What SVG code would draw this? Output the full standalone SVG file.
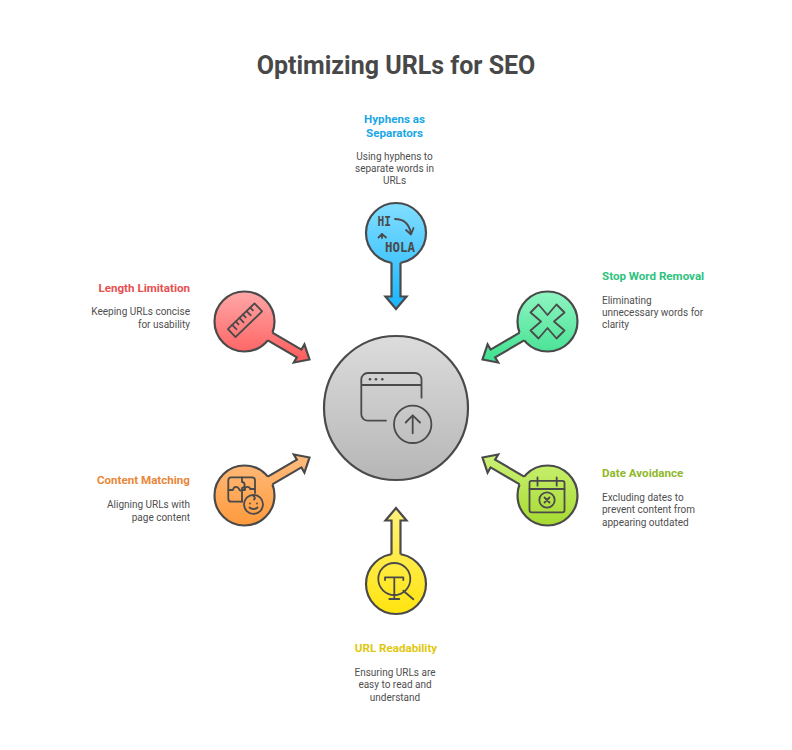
<svg xmlns="http://www.w3.org/2000/svg" width="792" height="750" viewBox="0 0 792 750">
<style>
text{font-family:Roboto,"Liberation Sans",sans-serif}
.t{font-size:25px;font-weight:700;fill:#484848;text-anchor:middle}
.h{font-size:11.6px;font-weight:700}
.d{font-size:10px;fill:#4f4f4f}
.m{text-anchor:middle}.e{text-anchor:end}
.c{stroke:#4a4a4a;stroke-width:2.2}
.i{fill:none;stroke:#4a4a4a;stroke-width:1.8;stroke-linecap:round;stroke-linejoin:round}
.l{fill:none;stroke:#4a4a4a;stroke-width:2.2;stroke-linejoin:miter}
.k{font-family:"DejaVu Sans Mono","Liberation Mono",monospace;font-weight:700;font-size:14px;fill:#4a4a4a}
</style>
<defs>
<linearGradient id="g0" gradientUnits="userSpaceOnUse" x1="0" y1="336" x2="0" y2="480"><stop offset="0" stop-color="#dcdcdc"/><stop offset="1" stop-color="#b6b6b6"/></linearGradient>
<linearGradient id="g1" gradientUnits="userSpaceOnUse" x1="0" y1="203" x2="0" y2="309"><stop offset="0" stop-color="#82deff"/><stop offset="1" stop-color="#19b5ff"/></linearGradient>
<linearGradient id="g2" gradientUnits="userSpaceOnUse" x1="0" y1="291" x2="0" y2="363"><stop offset="0" stop-color="#90f5c2"/><stop offset="1" stop-color="#3ee08e"/></linearGradient>
<linearGradient id="g3" gradientUnits="userSpaceOnUse" x1="0" y1="454" x2="0" y2="526"><stop offset="0" stop-color="#ccf277"/><stop offset="1" stop-color="#a6da30"/></linearGradient>
<linearGradient id="g4" gradientUnits="userSpaceOnUse" x1="0" y1="508" x2="0" y2="614"><stop offset="0" stop-color="#fff27a"/><stop offset="1" stop-color="#ffe40f"/></linearGradient>
<linearGradient id="g5" gradientUnits="userSpaceOnUse" x1="0" y1="454" x2="0" y2="526"><stop offset="0" stop-color="#ffbd80"/><stop offset="1" stop-color="#ff9a3c"/></linearGradient>
<linearGradient id="g6" gradientUnits="userSpaceOnUse" x1="0" y1="291" x2="0" y2="363"><stop offset="0" stop-color="#ffa8a8"/><stop offset="1" stop-color="#ff5a5a"/></linearGradient>
</defs>
<text class="t" x="396" y="74">Optimizing URLs for SEO</text>

<g id="center">
<circle cx="396" cy="408" r="72" fill="url(#g0)" class="c"/>
<path class="i" d="M386 420.700H368a6.500 6.500 0 0 1-6.700-6.500V379.500a6.500 6.500 0 0 1 6.700-6.500H415a6.500 6.500 0 0 1 6.500 6.500V397.700M361.500 385H421.500"/>
<circle cx="370" cy="379.300" r="1.300" fill="#4a4a4a"/><circle cx="376" cy="379.300" r="1.300" fill="#4a4a4a"/><circle cx="382.300" cy="379.300" r="1.300" fill="#4a4a4a"/>
<circle cx="412.700" cy="424.300" r="18.700" class="i"/>
<path class="i" d="M412.700 433.300V415.300M405.700 422.500L412.700 415.300L420 422.500"/>
</g>

<g id="hyphens">
<circle cx="396" cy="233" r="30" fill="url(#g1)" class="c"/>
<text class="k" x="377.500" y="226" textLength="13.500" lengthAdjust="spacingAndGlyphs">HI</text>
<text class="k" x="385" y="251.500" textLength="30" lengthAdjust="spacingAndGlyphs">HOLA</text>
<path class="i" d="M395 219C403 219 409 224 411 233M406 230L411 234.500L413.500 228M382 238V234M378.500 237.500L382 234L386 237.500"/>
<text class="h m" fill="#1aa7e6" x="394.500" y="123">Hyphens as</text>
<text class="h m" fill="#1aa7e6" x="394.500" y="137">Separators</text>
<text class="d m" x="394.500" y="160">Using hyphens to</text>
<text class="d m" x="394.500" y="172">separate words in</text>
<text class="d m" x="394.500" y="184">URLs</text>
</g>

<g id="stop-word">
<circle cx="547.500" cy="321.500" r="30" fill="url(#g2)" class="c"/>
<path class="i" d="M547.500 315L538.500 304.500L530.500 312.500L541 321.500L530.500 330.500L538.500 338.500L547.500 328L556.500 338.500L564.500 330.500L554 321.500L564.500 312.500L556.500 304.500Z"/>
<text class="h" fill="#2ec27e" x="602" y="280">Stop Word Removal</text>
<text class="d" x="602" y="304">Eliminating</text>
<text class="d" x="602" y="316">unnecessary words for</text>
<text class="d" x="602" y="328">clarity</text>
</g>

<g id="date">
<circle cx="547.500" cy="495.500" r="30" fill="url(#g3)" class="c"/>
<rect x="529.500" y="480.800" width="35" height="31.500" rx="2" class="i"/>
<path class="i" d="M529.500 489H564.500M537.500 477.300V485.700M556.700 477.300V485.700"/>
<circle cx="547" cy="500" r="7.700" class="i"/>
<path class="i" d="M544.500 497.500L549.500 502.500M549.500 497.500L544.500 502.500"/>
<text class="h" fill="#8fb82a" x="602" y="477">Date Avoidance</text>
<text class="d" x="602" y="501">Excluding dates to</text>
<text class="d" x="602" y="513">prevent content from</text>
<text class="d" x="602" y="526">appearing outdated</text>
</g>

<g id="readability">
<circle cx="396" cy="584" r="30" fill="url(#g4)" class="c"/>
<circle cx="394.300" cy="579" r="16" class="i"/>
<path class="i" d="M385 580V577.300H403.300V580M394.300 577.300V599M389.300 599H399.300M403.300 590.700L413.300 599.300"/>
<text class="h m" fill="#e0c80f" x="396" y="652">URL Readability</text>
<text class="d m" x="395" y="676">Ensuring URLs are</text>
<text class="d m" x="395" y="688">easy to read and</text>
<text class="d m" x="395" y="701">understand</text>
</g>

<g id="content">
<circle cx="244.500" cy="495.500" r="30" fill="url(#g5)" class="c"/>
<path class="i" d="M242.500 501.700H231.300a3 3 0 0 1-3-3V480.300a3 3 0 0 1 3-3H252a3 3 0 0 1 3 3V493"/>
<path class="i" d="M228.500 490H233C233.500 486 238 486 239 489C240 491 241.500 491 242 490H245C244 486 250 486 250 489H255M242 477.500V482C245.500 482 245.500 488 242 488V501.500"/>
<circle cx="253.500" cy="504.300" r="9.500" class="i"/>
<circle cx="250" cy="503.500" r=".9" fill="#4a4a4a"/><circle cx="257" cy="503.500" r=".9" fill="#4a4a4a"/>
<path class="i" d="M249.500 507.500C251.500 509.500 255.500 509.500 257.500 507.500M253 495.500C255 497 255.500 498.500 254 499.500"/>
<text class="h e" fill="#e8873a" x="190" y="484">Content Matching</text>
<text class="d e" x="190" y="508">Aligning URLs with</text>
<text class="d e" x="190" y="521">page content</text>
</g>

<g id="length">
<circle cx="244.500" cy="321.500" r="30" fill="url(#g6)" class="c"/>
<g transform="translate(245 320.200) rotate(-44)">
<rect x="-18.500" y="-5.500" width="37" height="11" class="i"/>
<path class="i" d="M-12.500 5.500V1.500M-7.500 5.500V-.5M-2.500 5.500V1.500M2.500 5.500V-.5M7.500 5.500V1.500M12.500 5.500V-.5" transform="rotate(180)"/>
</g>
<text class="h e" fill="#e85050" x="190" y="292">Length Limitation</text>
<text class="d e" x="190" y="315">Keeping URLs concise</text>
<text class="d e" x="190" y="328">for usability</text>
</g>

<g id="connectors">
<path fill="url(#g1)" d="M391.500 262.660V296.500H385.500L396 309L406.500 296.500H400.500V262.660V259H391.500Z"/>
<path class="l" d="M391.500 262.660V296.500H385.500L396 309L406.500 296.500H400.500V262.660"/>
<path fill="url(#g2)" d="M524.170 340.360L495.140 357.350L498.170 362.530L482.500 359.500L487.570 344.410L490.600 349.590L519.630 332.600L522.790 330.750L527.330 338.510Z"/>
<path class="l" d="M524.170 340.360L495.140 357.350L498.170 362.530L482.500 359.500L487.570 344.410L490.600 349.590L519.630 332.600"/>
<path fill="url(#g3)" d="M524.170 476.640L495.140 459.650L498.170 454.470L482.500 457.500L487.570 472.590L490.600 467.410L519.630 484.400L522.790 486.250L527.330 478.490Z"/>
<path class="l" d="M524.170 476.640L495.140 459.650L498.170 454.470L482.500 457.500L487.570 472.590L490.600 467.410L519.630 484.400"/>
<path fill="url(#g4)" d="M391.500 554.340V520.500H385.500L396 508L406.500 520.500H400.500V554.340V558H391.500Z"/>
<path class="l" d="M391.500 554.340V520.500H385.500L396 508L406.500 520.500H400.500V554.340"/>
<path fill="url(#g5)" d="M267.830 476.640L296.860 459.650L293.830 454.470L309.500 457.500L304.430 472.590L301.400 467.410L272.370 484.400L269.210 486.250L264.670 478.490Z"/>
<path class="l" d="M267.830 476.640L296.860 459.650L293.830 454.470L309.500 457.500L304.430 472.590L301.400 467.410L272.370 484.400"/>
<path fill="url(#g6)" d="M267.830 340.360L296.860 357.350L293.830 362.530L309.500 359.500L304.430 344.410L301.400 349.590L272.370 332.600L269.210 330.750L264.670 338.510Z"/>
<path class="l" d="M267.830 340.360L296.860 357.350L293.830 362.530L309.500 359.500L304.430 344.410L301.400 349.590L272.370 332.600"/>
</g>
</svg>
